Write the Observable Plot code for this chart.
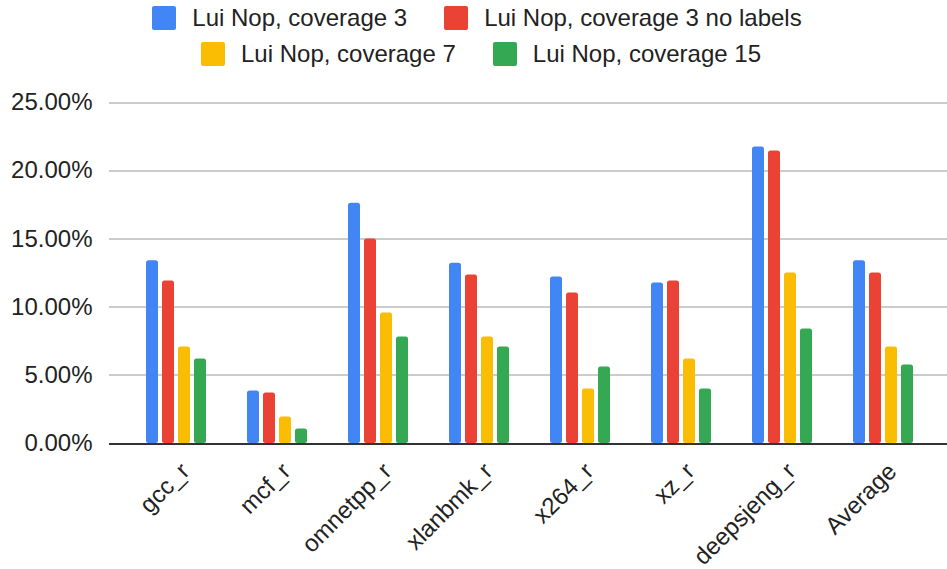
<!DOCTYPE html>
<html>
<head>
<meta charset="utf-8">
<script src="https://cdn.jsdelivr.net/npm/d3@7"></script>
<script src="https://cdn.jsdelivr.net/npm/@observablehq/plot@0.6"></script>
<style>
  html, body { margin: 0; padding: 0; background: #fff; }
  body { width: 947px; height: 569px; overflow: hidden; font-family: "Liberation Sans", Arial, sans-serif; }
  #legend { height: 80px; box-sizing: border-box; padding-top: 0px; padding-left: 7px; }
  .row { display: flex; justify-content: center; align-items: center; height: 36px; }
  .row.second { padding-left: 8px; }
  .item { display: flex; align-items: center; margin: 0 18.5px; font-size: 24px; color: #222; }
  .sw { width: 24px; height: 24px; border-radius: 2px; margin-right: 16px; }
  #chart svg { display: block; }
</style>
</head>
<body>
<div id="legend"></div>
<div id="chart"></div>
<script>
const categories = ["gcc_r", "mcf_r", "omnetpp_r", "xlanbmk_r", "x264_r", "xz_r", "deepsjeng_r", "Average"];
const series = ["Lui Nop, coverage 3", "Lui Nop, coverage 3 no labels", "Lui Nop, coverage 7", "Lui Nop, coverage 15"];
const colors = ["#4285F4", "#EA4335", "#FBBC04", "#34A853"];
const cov3 = [13.4, 3.85, 17.62, 13.22, 12.2, 11.77, 21.74, 13.4];
const cov3NoLabels = [11.92, 3.71, 15.0, 12.36, 11.04, 11.92, 21.45, 12.5];
const cov7 = [7.08, 1.95, 9.57, 7.81, 4.0, 6.2, 12.5, 7.08];
const cov15 = [6.2, 1.07, 7.81, 7.08, 5.61, 4.0, 8.4, 5.76];
const yTicks = [0, 5, 10, 15, 20, 25];

const seriesValues = [cov3, cov3NoLabels, cov7, cov15];
const data = [];
categories.forEach((c, i) => series.forEach((s, j) => data.push({category: c, series: s, value: seriesValues[j][i]})));

// Legend
const legend = document.getElementById("legend");
[[0, 1], [2, 3]].forEach((idx, r) => {
  const row = document.createElement("div");
  row.className = r ? "row second" : "row";
  idx.forEach(j => {
    const it = document.createElement("div");
    it.className = "item";
    const sw = document.createElement("div");
    sw.className = "sw";
    sw.style.background = colors[j];
    it.appendChild(sw);
    it.appendChild(document.createTextNode(series[j]));
    row.appendChild(it);
  });
  legend.appendChild(row);
});

const hasAxisMarks = typeof Plot.axisFx === "function";
const fxOpts = {domain: categories, paddingInner: 0.4085, paddingOuter: 0.345, align: 0.53, label: null};
if (!hasAxisMarks) Object.assign(fxOpts, {tickSize: 0, tickPadding: 24, tickRotate: -45});
else fxOpts.axis = null;

const marks = [
  Plot.ruleY(yTicks.filter(d => d > 0), {stroke: "#cccccc", strokeWidth: 2, shapeRendering: "crispEdges", insetLeft: -37, insetRight: -39}),
  Plot.barY(data, {fx: "category", x: "series", y: "value", fill: "series", rx: 2.5}),
  Plot.ruleY([0], {stroke: "#333333", strokeWidth: 2, shapeRendering: "crispEdges", insetLeft: -37, insetRight: -39})
];
if (hasAxisMarks) marks.push(Plot.axisFx({anchor: "bottom", tickRotate: -45, tickSize: 0, tickPadding: 24, dx: 9, label: null, fontSize: 24}));

const chart = Plot.plot({
  width: 947,
  height: 489,
  marginTop: 22,
  marginBottom: 126,
  marginLeft: 107,
  marginRight: 0,
  style: {fontFamily: "'Liberation Sans', Arial, sans-serif", fontSize: "24px", color: "#222", background: "#fff"},
  fx: fxOpts,
  x: {domain: series, paddingInner: 0.25, paddingOuter: 0, axis: null},
  y: {domain: [0, 25], ticks: yTicks, tickFormat: d => d.toFixed(2) + "%", label: null, tickSize: 0, tickPadding: 54},
  color: {domain: series, range: colors},
  marks
});
document.getElementById("chart").appendChild(chart);
</script>
</body>
</html>
